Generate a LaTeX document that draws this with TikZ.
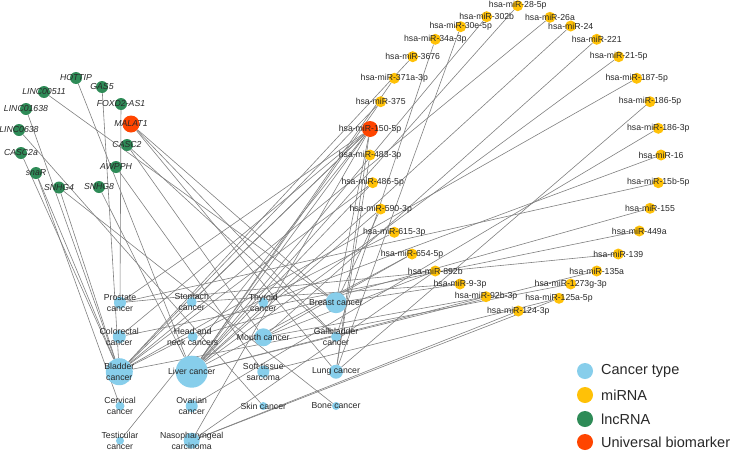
\documentclass[tikz,border=0pt]{standalone}
\usepackage{fontspec}
\setmainfont{Liberation Sans}
\usetikzlibrary{backgrounds}
\definecolor{cblue}{RGB}{135,206,235}
\definecolor{myel}{RGB}{255,193,7}
\definecolor{lgreen}{RGB}{46,139,87}
\definecolor{uorange}{RGB}{255,69,0}
\definecolor{edgegray}{RGB}{128,128,128}
\definecolor{labtxt}{RGB}{40,40,40}
\tikzset{
  dot/.style={circle, draw=none, inner sep=0pt, minimum size=#1},
  canc/.style={dot=#1, fill=cblue},
  mir/.style={dot=11pt, fill=myel},
  lnc/.style={dot=12pt, fill=lgreen},
  uni/.style={dot=#1, fill=uorange},
  lab/.style={text=labtxt, font=\fontsize{8.7}{11}\selectfont, inner sep=0pt, align=center},
  ilab/.style={lab, font=\fontsize{8.7}{11}\selectfont\itshape},
  edge/.style={draw=edgegray, line width=0.6pt},
  legtxt/.style={text=labtxt, font=\fontsize{14.5}{16}\selectfont, anchor=west, inner sep=0pt}
}
\begin{document}
\begin{tikzpicture}[x=1pt,y=-1pt]
\useasboundingbox (0,0) rectangle (733,450);
% lncRNA
\node[lnc, label={[ilab]center:HOTTIP}] (hottip) at (76,78) {};
\node[lnc, label={[ilab]center:LINC00511}] (linc511) at (44,92) {};
\node[lnc, label={[ilab]center:GAS5}] (gas5) at (102,87) {};
\node[lnc, label={[ilab]center:LINC01638}] (linc1638) at (26,109) {};
\node[lnc, label={[ilab]center:FOXD2-AS1}] (foxd2) at (121,104) {};
\node[uni=17pt, label={[ilab]center:MALAT1}] (malat1) at (131,124) {};
\node[lnc, label={[ilab]center:LINC0638}] (linc638) at (19,130) {};
\node[lnc, label={[ilab]center:CASC2}] (casc2) at (127,145) {};
\node[lnc, label={[ilab]center:CASC2a}] (casc2a) at (21,153) {};
\node[lnc, label={[ilab]center:AWPPH}] (awpph) at (116,167) {};
\node[lnc, label={[ilab]center:snaR}] (snar) at (36,173) {};
\node[lnc, label={[ilab]center:SNHG4}] (snhg4) at (59,187.5) {};
\node[lnc, label={[ilab]center:SNHG8}] (snhg8) at (99,187) {};
% miRNA
\node[mir, label={[lab]center:hsa-miR-28-5p}] (m28) at (517.7,5.7) {};
\node[mir, label={[lab]center:hsa-miR-302b}] (m302b) at (486.7,16.7) {};
\node[mir, label={[lab]center:hsa-miR-26a}] (m26a) at (550,17.3) {};
\node[mir, label={[lab]center:hsa-miR-30e-5p}] (m30e) at (460.7,26.7) {};
\node[mir, label={[lab]center:hsa-miR-24}] (m24) at (570.7,26) {};
\node[mir, label={[lab]center:hsa-miR-34a-3p}] (m34a) at (435.3,39.3) {};
\node[mir, label={[lab]center:hsa-miR-221}] (m221) at (596.7,39.3) {};
\node[mir, label={[lab]center:hsa-miR-3676}] (m3676) at (412.7,56.7) {};
\node[mir, label={[lab]center:hsa-miR-21-5p}] (m21) at (618.7,56.7) {};
\node[mir, label={[lab]center:hsa-miR-371a-3p}] (m371a) at (394.3,78.3) {};
\node[mir, label={[lab]center:hsa-miR-187-5p}] (m187) at (636.7,78.3) {};
\node[mir, label={[lab]center:hsa-miR-375}] (m375) at (380.7,101.7) {};
\node[mir, label={[lab]center:hsa-miR-186-5p}] (m1865) at (650,101.7) {};
\node[uni=16pt, label={[lab]center:hsa-miR-150-5p}] (m150) at (370,129) {};
\node[mir, label={[lab]center:hsa-miR-186-3p}] (m1863) at (658.3,128.3) {};
\node[mir, label={[lab]center:hsa-miR-483-3p}] (m483) at (370,155) {};
\node[mir, label={[lab]center:hsa-miR-16}] (m16) at (661,155) {};
\node[mir, label={[lab]center:hsa-miR-486-5p}] (m486) at (372.7,182.7) {};
\node[mir, label={[lab]center:hsa-miR-15b-5p}] (m15b) at (658.3,182.7) {};
\node[mir, label={[lab]center:hsa-miR-590-3p}] (m590) at (380.7,209) {};
\node[mir, label={[lab]center:hsa-miR-155}] (m155) at (650,208.3) {};
\node[mir, label={[lab]center:hsa-miR-615-3p}] (m615) at (394.3,232.3) {};
\node[mir, label={[lab]center:hsa-miR-449a}] (m449a) at (639.3,231) {};
\node[mir, label={[lab]center:hsa-miR-654-5p}] (m654) at (412,254) {};
\node[mir, label={[lab]center:hsa-miR-139}] (m139) at (618.3,254) {};
\node[mir, label={[lab]center:hsa-miR-892b}] (m892b) at (435.3,271) {};
\node[mir, label={[lab]center:hsa-miR-135a}] (m135a) at (596.7,271) {};
\node[mir, label={[lab]center:hsa-miR-9-3p}] (m93p) at (460,284) {};
\node[mir, label={[lab]center:hsa-miR-1273g-3p}] (m1273g) at (570.7,284) {};
\node[mir, label={[lab]center:hsa-miR-92b-3p}] (m92b) at (486,296.7) {};
\node[mir, label={[lab]center:hsa-miR-125a-5p}] (m125a) at (559,298.3) {};
\node[mir, label={[lab]center:hsa-miR-124-3p}] (m124) at (518.3,311) {};
% cancer types
\node[canc=12pt, label={[lab]center:Prostate\\cancer}] (prostate) at (120,302.7) {};
\node[canc=10pt, label={[lab]center:Stomach\\cancer}] (stomach) at (191.7,302) {};
\node[canc=10pt, label={[lab]center:Thyroid\\cancer}] (thyroid) at (263.3,302.7) {};
\node[canc=21pt, label={[lab]center:Breast cancer}] (breast) at (336,302.7) {};
\node[canc=13pt, label={[lab]center:Colorectal\\cancer}] (colorectal) at (119.3,336.7) {};
\node[canc=10pt, label={[lab]center:Head and\\neck cancers}] (headneck) at (192.7,336.7) {};
\node[canc=18pt, label={[lab]center:Mouth cancer}] (mouth) at (263.3,337.3) {};
\node[canc=10pt, label={[lab]center:Gallbladder\\cancer}] (gallbladder) at (336,336.7) {};
\node[canc=27pt, label={[lab]center:Bladder\\cancer}] (bladder) at (119.3,371.7) {};
\node[canc=32pt, label={[lab]center:Liver cancer}] (liver) at (191.7,371.7) {};
\node[canc=12pt, label={[lab]center:Soft tissue\\sarcoma}] (softtissue) at (263.3,371.7) {};
\node[canc=14pt, label={[lab]center:Lung cancer}] (lung) at (336,371.7) {};
\node[canc=9pt, label={[lab]center:Cervical\\cancer}] (cervical) at (120,406) {};
\node[canc=12pt, label={[lab]center:Ovarian\\cancer}] (ovarian) at (191.7,406) {};
\node[canc=8pt, label={[lab]center:Skin cancer}] (skin) at (263.3,406) {};
\node[canc=8pt, label={[lab]center:Bone cancer}] (bone) at (336,406) {};
\node[canc=8pt, label={[lab]center:Testicular\\cancer}] (testicular) at (120,440.7) {};
\node[canc=16pt, label={[lab]center:Nasopharyngeal\\carcinoma}] (naso) at (191.7,440.7) {};
% edges
\begin{scope}[on background layer]
\foreach \a/\b in {
 hottip/liver, linc511/breast, gas5/bladder, foxd2/prostate, linc1638/bladder,
 linc638/skin, malat1/breast, malat1/gallbladder, malat1/lung, casc2/mouth,
 casc2/gallbladder, awpph/softtissue, casc2a/bladder, snar/bladder, snar/cervical,
 snhg4/bone, snhg4/bladder, snhg8/liver,
 m28/liver, m302b/liver, m30e/lung, m34a/gallbladder, m3676/bladder,
 m371a/liver, m375/bladder, m375/liver,
 m150/bladder, m150/liver, m150/colorectal, m150/stomach, m150/lung,
 m150/testicular, m150/naso, m150/prostate, m150/breast,
 m483/lung, m486/liver, m486/bladder, m590/liver, m590/breast, m615/bladder,
 m654/liver, m654/mouth, m892b/naso, m892b/mouth, m93p/stomach, m93p/breast,
 m92b/liver, m92b/mouth, m124/naso, m125a/naso, m125a/softtissue,
 m1273g/bladder, m135a/liver, m139/prostate, m449a/colorectal, m155/headneck,
 m15b/prostate, m16/thyroid, m1863/ovarian, m1865/lung, m187/bladder,
 m21/liver, m221/mouth, m24/liver, m26a/bladder}
 { \draw[edge] (\a) -- (\b); }
\end{scope}
% legend
\node[canc=16pt] (lg1) at (585,371) {};
\node[mir, minimum size=16pt] (lg2) at (585,395) {};
\node[lnc, minimum size=16pt] (lg3) at (585,419) {};
\node[uni=16pt] (lg4) at (585,442) {};
\node[legtxt] at (601,371) {Cancer type};
\node[legtxt] at (601,395) {miRNA};
\node[legtxt] at (601,419) {lncRNA};
\node[legtxt] at (601,442) {Universal biomarker};
\end{tikzpicture}
\end{document}
